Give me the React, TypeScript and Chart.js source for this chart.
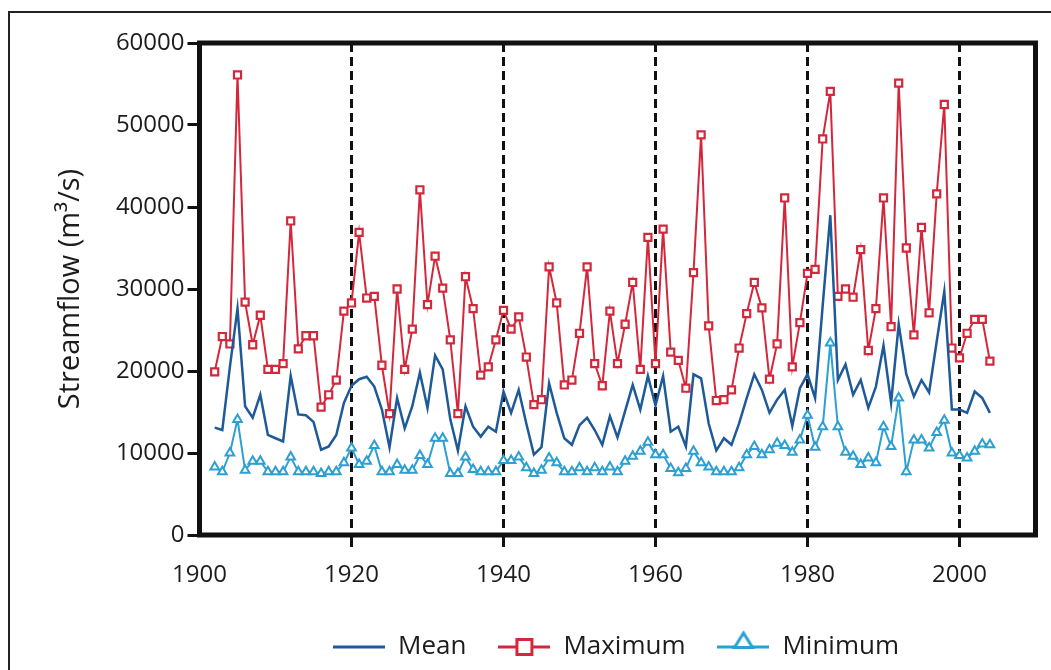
import React, { useEffect, useRef } from "react";
import { Chart, registerables } from "chart.js";

Chart.register(...registerables);

const years = [
  1902, 1903, 1904, 1905, 1906, 1907, 1908, 1909, 1910, 1911,
  1912, 1913, 1914, 1915, 1916, 1917, 1918, 1919, 1920, 1921,
  1922, 1923, 1924, 1925, 1926, 1927, 1928, 1929, 1930, 1931,
  1932, 1933, 1934, 1935, 1936, 1937, 1938, 1939, 1940, 1941,
  1942, 1943, 1944, 1945, 1946, 1947, 1948, 1949, 1950, 1951,
  1952, 1953, 1954, 1955, 1956, 1957, 1958, 1959, 1960, 1961,
  1962, 1963, 1964, 1965, 1966, 1967, 1968, 1969, 1970, 1971,
  1972, 1973, 1974, 1975, 1976, 1977, 1978, 1979, 1980, 1981,
  1982, 1983, 1984, 1985, 1986, 1987, 1988, 1989, 1990, 1991,
  1992, 1993, 1994, 1995, 1996, 1997, 1998, 1999, 2000, 2001,
  2002, 2003, 2004,
];

const meanFlow = [
  13100, 12800, 20500, 27600, 15700, 14300, 17100, 12200, 11800, 11400,
  19400, 14700, 14600, 13800, 10400, 10800, 12200, 16100, 18200, 19000,
  19300, 18100, 15300, 10700, 16700, 13000, 15700, 19800, 15500, 21900,
  20200, 14100, 10300, 15700, 13200, 12000, 13200, 12600, 17500, 14900,
  17700, 13600, 9800, 10700, 18500, 14900, 11800, 11000, 13400, 14300,
  12800, 11000, 14500, 11900, 15100, 18300, 15300, 19400, 15800, 19400,
  12600, 13200, 10800, 19600, 19100, 13600, 10300, 11800, 11000, 13600,
  16700, 19600, 17700, 14900, 16500, 17700, 13300, 17900, 19600, 16700,
  28000, 39000, 18900, 20800, 17100, 18900, 15500, 18100, 23100, 16100,
  25700, 19600, 16900, 18900, 17400, 23600, 29700, 15300, 15300, 14900,
  17500, 16700, 14900,
];

const maxFlow = [
  19900, 24200, 23300, 56100, 28400, 23200, 26800, 20200, 20200, 20900,
  38300, 22700, 24300, 24300, 15600, 17100, 18900, 27300, 28300, 36900,
  28900, 29100, 20700, 14800, 30000, 20200, 25100, 42100, 28100, 34000,
  30100, 23800, 14800, 31500, 27600, 19500, 20500, 23800, 27400, 25100,
  26600, 21700, 15900, 16500, 32700, 28300, 18300, 18900, 24600, 32700,
  20900, 18200, 27300, 20900, 25700, 30800, 20200, 36300, 20900, 37300,
  22300, 21300, 17900, 32000, 48800, 25500, 16400, 16500, 17700, 22800,
  27000, 30800, 27700, 19000, 23300, 41100, 20500, 25900, 31900, 32400,
  48300, 54100, 29100, 30000, 29000, 34800, 22500, 27600, 41100, 25400,
  55100, 35000, 24400, 37500, 27100, 41600, 52500, 22800, 21600, 24600,
  26300, 26300, 21200,
];

const minFlow = [
  8300, 7700, 10000, 14100, 7900, 9000, 9000, 7700, 7700, 7700,
  9500, 7700, 7700, 7700, 7500, 7700, 7700, 8800, 10600, 8600,
  9000, 10900, 7700, 7700, 8600, 7900, 7900, 9700, 8600, 11800,
  11800, 7500, 7500, 9500, 8000, 7700, 7700, 7700, 9100, 9100,
  9500, 8200, 7500, 7900, 9400, 8800, 7700, 7700, 8200, 7700,
  8200, 7700, 8300, 7700, 9000, 9600, 10200, 11300, 9800, 9800,
  8100, 7600, 8100, 10200, 8800, 8300, 7700, 7700, 7700, 8200,
  9800, 10800, 9800, 10400, 11200, 10900, 10100, 11600, 14600, 10700,
  13200, 23400, 13200, 10100, 9600, 8600, 9400, 8800, 13200, 10800,
  16700, 7700, 11600, 11600, 10600, 12500, 14000, 10000, 9700, 9400,
  10200, 11100, 11000,
];

const xTicks = [1900, 1920, 1940, 1960, 1980, 2000];
const yTicks = [0, 10000, 20000, 30000, 40000, 50000, 60000];

const FONT = "'Open Sans', 'Noto Sans', sans-serif";
const TEXT = "#1c1c1c";
const INK = "#111111";
const MEAN_COLOR = "#1d5a97";
const MAX_COLOR = "#d3283b";
const MIN_COLOR = "#2c9fd3";

const ICON_W = 52;

function makeIcon(color: string, marker: "none" | "rect" | "triangle"): HTMLCanvasElement {
  const c = document.createElement("canvas");
  c.width = ICON_W;
  c.height = 40;
  const g = c.getContext("2d")!;
  const cx = ICON_W / 2;
  g.strokeStyle = color;
  g.lineWidth = 3;
  g.beginPath();
  g.moveTo(0, 20);
  g.lineTo(ICON_W, 20);
  g.stroke();
  g.fillStyle = "#ffffff";
  if (marker === "rect") {
    g.fillRect(cx - 7.5, 12.5, 15, 15);
    g.strokeRect(cx - 7.5, 12.5, 15, 15);
  } else if (marker === "triangle") {
    g.beginPath();
    g.moveTo(cx, 6);
    g.lineTo(cx + 9, 20.5);
    g.lineTo(cx - 9, 20.5);
    g.closePath();
    g.fill();
    g.stroke();
  }
  return c;
}

const pairs = (vals: number[]) => years.map((x, i) => ({ x, y: vals[i] }));

const framePlugin = {
  id: "frames",
  beforeDraw(chart: any) {
    const { ctx, width, height } = chart;
    ctx.save();
    ctx.fillStyle = "#ffffff";
    ctx.fillRect(0, 0, width, height);
    ctx.strokeStyle = "#222222";
    ctx.lineWidth = 2;
    ctx.beginPath();
    ctx.moveTo(9, height);
    ctx.lineTo(9, 12);
    ctx.lineTo(width, 12);
    ctx.stroke();
    ctx.restore();
  },
  beforeDatasetsDraw(chart: any) {
    const { ctx, chartArea } = chart;
    ctx.save();
    ctx.strokeStyle = INK;
    ctx.lineWidth = 5;
    ctx.strokeRect(
      chartArea.left,
      chartArea.top,
      chartArea.right - chartArea.left,
      chartArea.bottom - chartArea.top
    );
    ctx.restore();
  },
  afterLayout(chart: any) {
    const lg = chart.legend;
    if (lg) {
      const pad = lg.options.labels.padding;
      lg.left = 333 - pad;
    }
  },
};

export default function App() {
  const ref = useRef<HTMLCanvasElement | null>(null);

  useEffect(() => {
    if (!ref.current) return;
    const icons = [
      makeIcon(MEAN_COLOR, "none"),
      makeIcon(MAX_COLOR, "rect"),
      makeIcon(MIN_COLOR, "triangle"),
    ];
    const isEdge = (c: any) => (c.tick && c.tick.value === 1900 ? 0 : 3);

    const chart = new Chart(ref.current, {
      type: "line",
      data: {
        datasets: [
          {
            label: "Mean",
            data: pairs(meanFlow),
            borderColor: MEAN_COLOR,
            backgroundColor: MEAN_COLOR,
            borderWidth: 2.5,
            pointRadius: 0,
            tension: 0,
          },
          {
            label: "Maximum",
            data: pairs(maxFlow),
            borderColor: MAX_COLOR,
            backgroundColor: "#ffffff",
            borderWidth: 2,
            pointStyle: "rect",
            pointRadius: 5,
            pointBorderWidth: 2.2,
            pointBorderColor: MAX_COLOR,
            pointBackgroundColor: "#ffffff",
            tension: 0,
          },
          {
            label: "Minimum",
            data: pairs(minFlow),
            borderColor: MIN_COLOR,
            backgroundColor: "#ffffff",
            borderWidth: 2,
            pointStyle: "triangle",
            pointRadius: 5,
            pointBorderWidth: 2,
            pointBorderColor: MIN_COLOR,
            pointBackgroundColor: "#ffffff",
            tension: 0,
          },
        ],
      },
      options: {
        responsive: false,
        animation: false,
        devicePixelRatio: 1,
        layout: { padding: { left: 0, right: 15.5, top: 43, bottom: 0 } },
        plugins: {
          tooltip: { enabled: false },
          legend: {
            position: "bottom",
            align: "start",
            labels: {
              usePointStyle: true,
              pointStyleWidth: ICON_W,
              padding: 32,
              color: TEXT,
              font: { family: FONT, size: 26 },
              generateLabels: (ch: any) => {
                const items = Chart.defaults.plugins.legend.labels.generateLabels(ch);
                items.forEach((it: any, i: number) => {
                  it.pointStyle = icons[i];
                });
                return items;
              },
            },
          },
        },
        scales: {
          x: {
            type: "linear",
            min: 1900,
            max: 2010,
            afterBuildTicks: (s: any) => {
              s.ticks = xTicks.map((v) => ({ value: v }));
            },
            afterFit: (s: any) => {
              s.height = 67;
            },
            ticks: {
              callback: (v: any) => String(v),
              color: TEXT,
              font: { family: FONT, size: 24 },
              padding: 14,
              maxRotation: 0,
              autoSkip: false,
            },
            grid: {
              drawOnChartArea: true,
              color: INK,
              lineWidth: isEdge,
              tickLength: 12,
              tickWidth: isEdge,
              tickColor: INK,
            },
            border: { display: false, dash: [9, 5] },
          },
          y: {
            type: "linear",
            min: 0,
            max: 60000,
            afterBuildTicks: (s: any) => {
              s.ticks = yTicks.map((v) => ({ value: v }));
            },
            afterFit: (s: any) => {
              s.width = 199.5;
            },
            ticks: {
              callback: (v: any) => String(v),
              color: TEXT,
              font: { family: FONT, size: 24 },
              padding: 3,
            },
            grid: {
              drawOnChartArea: false,
              tickLength: 12,
              tickWidth: 3,
              tickColor: INK,
            },
            border: { display: false },
            title: {
              display: true,
              text: "Streamflow (m³/s)",
              color: TEXT,
              font: { family: FONT, size: 29 },
              padding: { top: 53, bottom: 0 },
            },
          },
        },
      },
      plugins: [framePlugin],
    } as any);

    return () => chart.destroy();
  }, []);

  return (
    <div style={{ position: "fixed", left: 0, top: 0, width: 1051, height: 670, background: "#fff" }}>
      <canvas ref={ref} width={1051} height={670} style={{ display: "block" }} />
    </div>
  );
}
